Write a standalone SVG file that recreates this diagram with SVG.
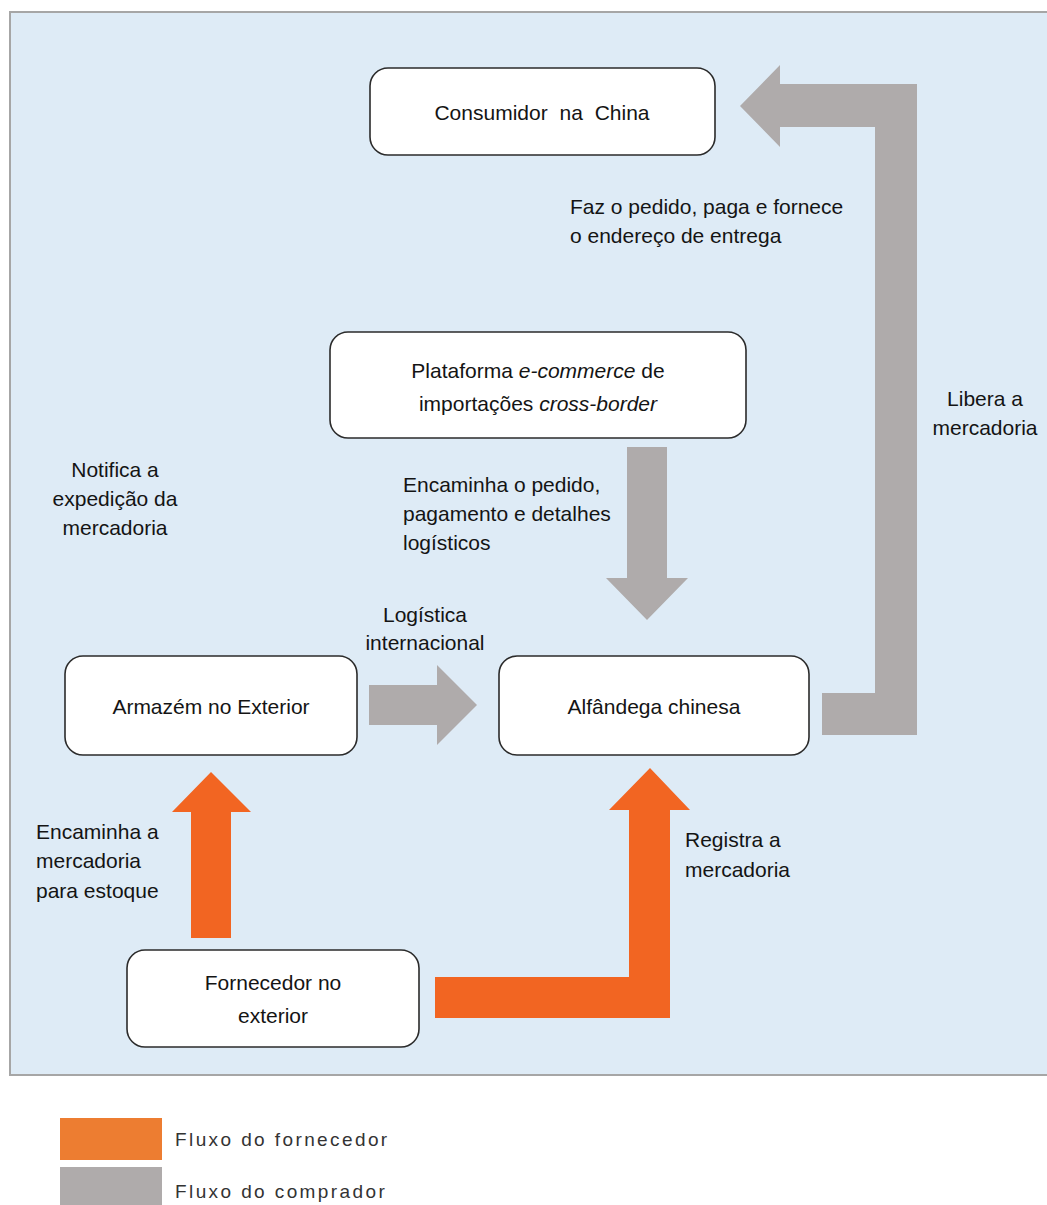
<svg xmlns="http://www.w3.org/2000/svg" width="1047" height="1205" viewBox="0 0 1047 1205">
<style>
.t{font-family:"Liberation Sans",Arial,sans-serif;font-size:21px;fill:#141414}
.m{text-anchor:middle}
.box{fill:#ffffff;stroke:#2b2b2b;stroke-width:1.6}
.buy{fill:#afabab}
.sup{fill:#f26522}
.leg{font-family:"Liberation Sans",Arial,sans-serif;font-size:19px;fill:#333;letter-spacing:2.4px}
</style>
<rect x="10" y="12" width="1045" height="1063" fill="#deebf6" stroke="#a6a6a6" stroke-width="2"/>

<g id="labels">
<text class="t" x="570" y="214">Faz o pedido, paga e fornece</text>
<text class="t" x="570" y="243">o endereço de entrega</text>
<text class="t m" x="985" y="406">Libera a</text>
<text class="t m" x="985" y="435">mercadoria</text>
<text class="t m" x="115" y="477">Notifica a</text>
<text class="t m" x="115" y="506">expedição da</text>
<text class="t m" x="115" y="535">mercadoria</text>
<text class="t" x="403" y="492">Encaminha o pedido,</text>
<text class="t" x="403" y="521">pagamento e detalhes</text>
<text class="t" x="403" y="550">logísticos</text>
<text class="t m" x="425" y="622">Logística</text>
<text class="t m" x="425" y="650">internacional</text>
<text class="t" x="36" y="839">Encaminha a</text>
<text class="t" x="36" y="868">mercadoria</text>
<text class="t" x="36" y="898">para estoque</text>
<text class="t" x="685" y="847">Registra a</text>
<text class="t" x="685" y="877">mercadoria</text>
</g>

<g id="connectors">
<polygon id="c-libera" class="buy" points="822,735 917,735 917,84 780,84 780,65 740,106 780,147 780,127 875,127 875,693 822,693"/>
<polygon id="c-encaminha" class="buy" points="627,447 667,447 667,578 688,578 647,620 606,578 627,578"/>
<polygon id="c-logistica" class="buy" points="369,685 437,685 437,665 477,705 437,745 437,725 369,725"/>
<polygon id="c-estoque" class="sup" points="191,938 231,938 231,812 251,812 211,772 172,812 191,812"/>
<polygon id="c-registra" class="sup" points="435,977 629,977 629,810 609,810 650,768 690,810 670,810 670,1018 435,1018"/>
</g>

<g id="consumidor">
<rect class="box" x="370" y="68" width="345" height="87" rx="18"/>
<text class="t m" x="542" y="120" word-spacing="6">Consumidor na China</text>
</g>
<g id="plataforma">
<rect class="box" x="330" y="332" width="416" height="106" rx="18"/>
<text class="t m" x="538" y="378">Plataforma <tspan font-style="italic">e-commerce</tspan> de</text>
<text class="t m" x="538" y="411">importações <tspan font-style="italic">cross-border</tspan></text>
</g>
<g id="armazem">
<rect class="box" x="65" y="656" width="292" height="99" rx="18"/>
<text class="t m" x="211" y="714">Armazém no Exterior</text>
</g>
<g id="alfandega">
<rect class="box" x="499" y="656" width="310" height="99" rx="18"/>
<text class="t m" x="654" y="714">Alfândega chinesa</text>
</g>
<g id="fornecedor">
<rect class="box" x="127" y="950" width="292" height="97" rx="18"/>
<text class="t m" x="273" y="990">Fornecedor no</text>
<text class="t m" x="273" y="1023">exterior</text>
</g>

<g id="legend">
<rect x="60" y="1118" width="102" height="42" fill="#ed7d31"/>
<rect x="60" y="1167" width="102" height="38" fill="#afabab"/>
<text class="leg" x="175" y="1146">Fluxo do fornecedor</text>
<text class="leg" x="175" y="1198">Fluxo do comprador</text>
</g>
</svg>
